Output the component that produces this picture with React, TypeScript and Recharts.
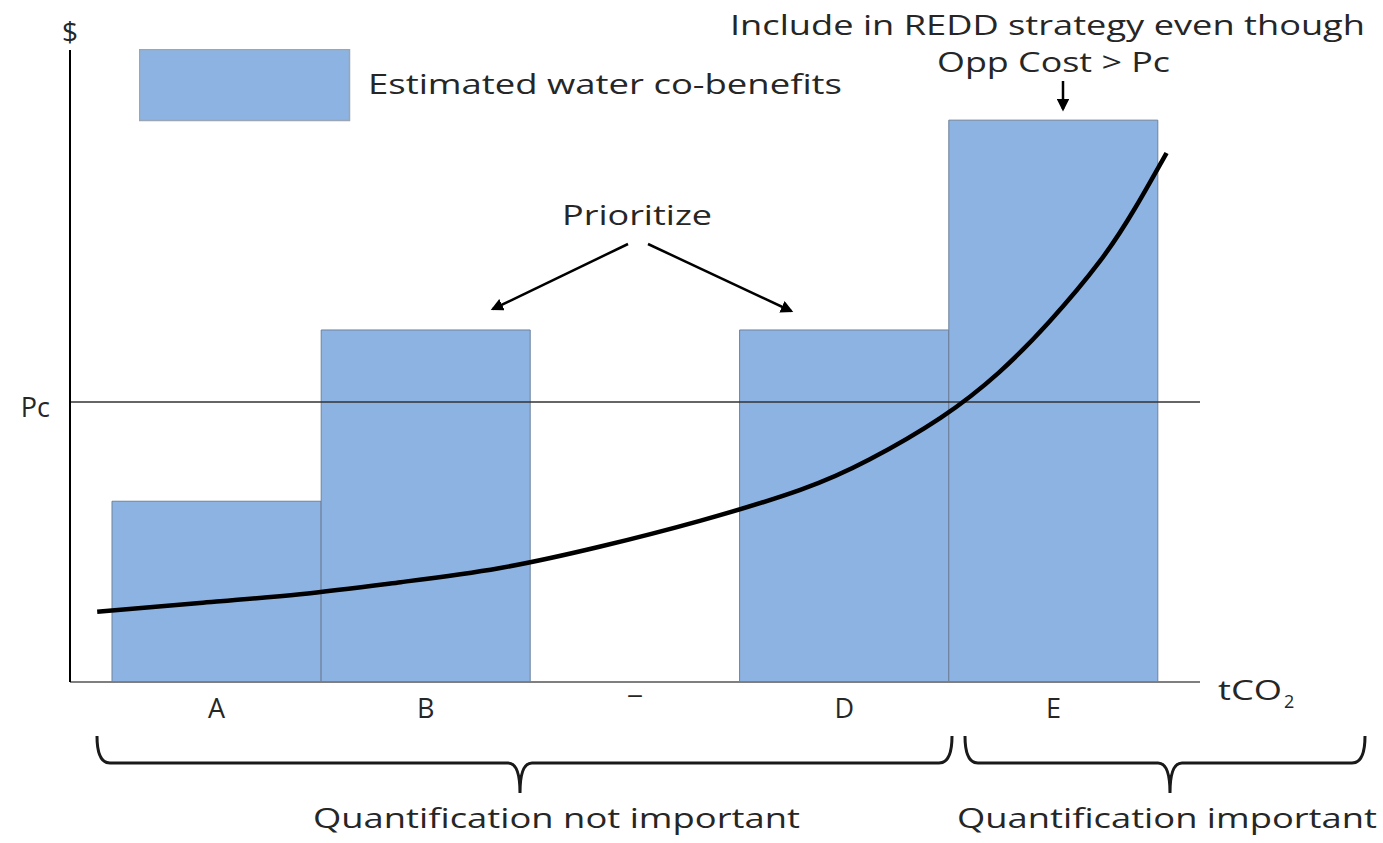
import React from "react";
import {Bar, ComposedChart, Legend, Line, ReferenceLine, XAxis, YAxis} from "recharts";

// blocks of abatement (tCO2) and their estimated water co-benefits ($)
const categories = ["A", "B", "¯", "D", "E"];
const benefits = [28.6, 55.7, null, 55.7, 88.9];

// carbon price
const pc = 44.3;

// opportunity cost curve (x in block units)
const curveX = [-0.07, 0.42, 0.9, 1.38, 1.85, 2.33, 2.81, 3.29, 3.62, 3.96, 4.24, 4.48, 4.72, 4.89, 5.04];
const curveY = [11.1, 12.5, 13.9, 15.8, 18.0, 21.4, 25.5, 30.4, 35.2, 41.8, 49.0, 57.0, 66.5, 75.0, 83.7];

const barData = categories.map((name, i) => ({name, benefit: benefits[i]}));
const curveData = curveX.map((x, i) => ({x, cost: curveY[i]}));

const FONT = "'Open Sans', 'DejaVu Sans', sans-serif";
const BLUE = "#8db3e2";
const TEXT = "#262626";

const Txt = ({x, y, w, size = 27, children}: { x: number, y: number, w?: number, size?: number, children: React.ReactNode }) => (
    <text x={x} y={y} fontSize={size} fontFamily={FONT} fill={TEXT}
          textLength={w} lengthAdjust={w ? "spacingAndGlyphs" : undefined}>{children}</text>
);

const CategoryTick = (props: any) => {
    const {x, y, payload} = props;
    return (
        <text x={x} y={y} dy={28} textAnchor="middle" fontSize={27} fontFamily={FONT} fill={TEXT}>
            {payload.value}
        </text>
    );
};

const PriceTick = (props: any) => {
    const {x, y} = props;
    return (
        <text x={x} y={y} dy={15} textAnchor="end" fontSize={27} fontFamily={FONT} fill={TEXT}>Pc</text>
    );
};

const LegendBox = () => (
    <svg width={720} height={75}>
        <rect x={0.5} y={0.5} width={210} height={71} fill={BLUE} stroke="#9aa6b4" strokeWidth={1.5}/>
        <Txt x={229} y={45} w={474}>Estimated water co-benefits</Txt>
    </svg>
);

const brace = (x1: number, x2: number, mid: number) =>
    `M ${x1} 736 Q ${x1} 763 ${x1 + 13} 763 L ${mid - 12} 763 Q ${mid} 763 ${mid} 793 ` +
    `Q ${mid} 763 ${mid + 12} 763 L ${x2 - 13} 763 Q ${x2} 763 ${x2} 736`;

export default function App() {
    return (
        <div style={{position: "absolute", left: 0, top: 0, width: 1383, height: 843, background: "#fff"}}>
            <ComposedChart width={1383} height={843} data={barData} barCategoryGap={0}
                           margin={{top: 50, right: 183, bottom: 121, left: 60}}>
                <XAxis xAxisId="cat" dataKey="name" padding={{left: 42, right: 42}} height={40}
                       axisLine={{stroke: "#7f7f7f", strokeWidth: 2}} tickLine={false} tick={<CategoryTick/>}
                       interval={0}/>
                <XAxis xAxisId="num" type="number" dataKey="x" domain={[-0.2, 5.2]} allowDataOverflow hide/>
                <YAxis width={10} domain={[0, 100]} ticks={[pc]} tickLine={false} tickMargin={14}
                       axisLine={{stroke: "#000", strokeWidth: 2}} tick={<PriceTick/>} interval={0}/>
                <Legend layout="vertical" align="center" verticalAlign="middle"
                        wrapperStyle={{left: 139, top: 49, width: 720, height: 75}} content={<LegendBox/>}/>
                <Bar xAxisId="cat" dataKey="benefit" name="Estimated water co-benefits" fill={BLUE}
                     stroke="#6f819b" strokeWidth={1} isAnimationActive={false}/>
                <ReferenceLine xAxisId="num" y={pc} stroke="#333" strokeWidth={1.5}/>
                <Line xAxisId="num" data={curveData} dataKey="cost" type="natural" stroke="#000"
                      strokeWidth={4.5} dot={false} legendType="none" isAnimationActive={false}/>
            </ComposedChart>
            <svg width={1383} height={843} style={{position: "absolute", left: 0, top: 0, pointerEvents: "none"}}>
                <defs>
                    <marker id="head" viewBox="0 0 10 10" refX="8" refY="5" markerWidth="5" markerHeight="5"
                            orient="auto">
                        <path d="M0,0 L10,5 L0,10 z" fill="#000"/>
                    </marker>
                </defs>
                <text x={70} y={42} textAnchor="middle" fontSize={28} fontFamily={FONT} fill={TEXT}>$</text>

                <Txt x={730} y={35} w={635}>Include in REDD strategy even though</Txt>
                <Txt x={937} y={72} w={233}>Opp Cost &gt; Pc</Txt>
                <line x1={1063} y1={81} x2={1063} y2={109} stroke="#000" strokeWidth={2.5} markerEnd="url(#head)"/>

                <Txt x={562} y={225} w={150}>Prioritize</Txt>
                <line x1={628} y1={244} x2={493} y2={309} stroke="#000" strokeWidth={2.5} markerEnd="url(#head)"/>
                <line x1={648} y1={244} x2={791} y2={311} stroke="#000" strokeWidth={2.5} markerEnd="url(#head)"/>

                <Txt x={1218} y={700} w={64}>tCO</Txt>
                <text x={1284} y={708} fontSize={18} fontFamily={FONT} fill={TEXT}>2</text>

                <path d={brace(97, 952, 520)} fill="none" stroke="#1a1a1a" strokeWidth={3}/>
                <path d={brace(965, 1365, 1170)} fill="none" stroke="#1a1a1a" strokeWidth={3}/>

                <Txt x={313} y={828} w={487}>Quantification not important</Txt>
                <Txt x={957} y={828} w={420}>Quantification important</Txt>
            </svg>
        </div>
    );
}
